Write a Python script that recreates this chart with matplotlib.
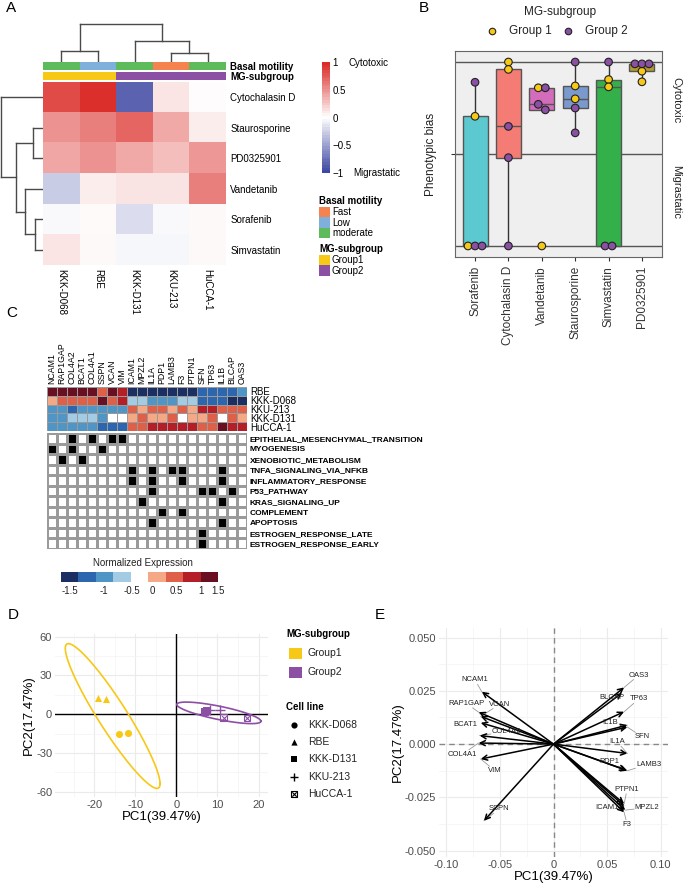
import numpy as np
import matplotlib
matplotlib.use('Agg')
import matplotlib.pyplot as plt
from matplotlib.colors import LinearSegmentedColormap, ListedColormap, BoundaryNorm, to_rgb
from matplotlib.patches import Rectangle

plt.rcParams['font.family'] = ['Liberation Sans', 'DejaVu Sans']

# ---------------- Panel A data ----------------
a_cells = ['KKK-D068', 'RBE', 'KKK-D131', 'KKU-213', 'HuCCA-1']
a_drugs = ['Cytochalasin D', 'Staurosporine', 'PD0325901', 'Vandetanib', 'Sorafenib', 'Simvastatin']
a_bias = [
    [0.85, 0.97, -0.85, 0.12, 0.01],
    [0.50, 0.60, 0.72, 0.40, 0.08],
    [0.42, 0.50, 0.40, 0.30, 0.48],
    [-0.28, 0.08, 0.13, 0.13, 0.60],
    [-0.03, 0.02, -0.18, -0.03, 0.03],
    [0.12, 0.03, -0.04, -0.04, 0.03],
]
a_motility = ['moderate', 'Low', 'moderate', 'Fast', 'moderate']
a_subgroup = ['Group1', 'Group1', 'Group2', 'Group2', 'Group2']
a_col_merges = [(0, 1, 11), (3, 4, 9), (2, 6, 21), (5, 7, 38)]
a_row_merges = [(1, 2, 10), (4, 5, 8), (3, 7, 18), (6, 8, 27), (0, 9, 42)]

# ---------------- Panel B data ----------------
b_drugs = ['Sorafenib', 'Cytochalasin D', 'Vandetanib', 'Staurosporine', 'Simvastatin', 'PD0325901']
b_group1 = [[-1.0, 0.41], [1.0, 0.92], [-1.0, 0.72], [0.74, 0.60], [0.81, 0.73], [0.90, 0.785]]
b_group2 = [[-1.0, -1.0, 0.78], [0.30, -0.04, -1.0], [0.72, 0.54, 0.48], [1.0, 0.50, 0.23],
            [1.0, -1.0, -1.0], [0.98, 0.98, 0.98]]

# ---------------- Panel C data ----------------
c_genes = ['NCAM1', 'RAP1GAP', 'COL4A2', 'BCAT1', 'COL4A1', 'SSPN', 'VCAN', 'VIM', 'ICAM1', 'MPZL2',
           'IL1A', 'PDP1', 'LAMB3', 'F3', 'PTPN1', 'SFN', 'TP63', 'IL1B', 'BLCAP', 'OAS3']
c_cells = ['RBE', 'KKK-D068', 'KKU-213', 'KKK-D131', 'HuCCA-1']
c_expr = [
    [1.75, 1.75, 1.75, 1.75, 1.75, 0.75, 1.75, 1.25, -1.75, -1.75, -1.75, -1.75, -1.75, -1.75, -1.75, -1.25, -1.25, -1.25, -1.25, -0.75],
    [0.25, 0.75, 0.75, 0.75, 0.75, 1.75, 0.75, 1.25, -0.25, -0.25, -0.75, -0.75, -0.75, -0.25, -0.25, -1.25, -1.25, -1.25, -1.75, -1.75],
    [-0.75, -0.75, -1.25, -0.75, -0.75, -0.75, -0.75, -0.75, 0.75, 0.25, 0.75, 0.75, 0.25, 0.75, 0.25, 1.25, 1.25, 0.75, 0.75, 0.75],
    [-0.75, -0.75, -0.25, -0.25, -0.25, -0.75, 0.0, 0.0, 0.25, 0.75, 0.25, 0.25, 0.75, 0.0, 0.25, 0.25, 0.75, 0.0, 0.75, 0.25],
    [-0.75, -0.75, -0.75, -0.75, -0.75, -1.25, -1.25, -1.25, 0.75, 0.75, 1.25, 1.25, 1.25, 1.25, 1.25, 0.75, 0.75, 1.75, 1.25, 1.25],
]
c_pathways = ['EPITHELIAL_MESENCHYMAL_TRANSITION', 'MYOGENESIS', 'XENOBIOTIC_METABOLISM',
              'TNFA_SIGNALING_VIA_NFKB', 'INFLAMMATORY_RESPONSE', 'P53_PATHWAY', 'KRAS_SIGNALING_UP',
              'COMPLEMENT', 'APOPTOSIS', 'ESTROGEN_RESPONSE_LATE', 'ESTROGEN_RESPONSE_EARLY']
c_members = [
    ['COL4A2', 'COL4A1', 'VCAN', 'VIM'],
    ['NCAM1', 'COL4A2', 'SSPN'],
    ['RAP1GAP', 'BCAT1'],
    ['ICAM1', 'IL1A', 'LAMB3', 'F3', 'IL1B'],
    ['ICAM1', 'IL1A', 'F3', 'IL1B'],
    ['IL1A', 'SFN', 'TP63', 'BLCAP'],
    ['MPZL2', 'IL1B'],
    ['PDP1', 'F3'],
    ['IL1A', 'IL1B'],
    ['SFN'],
    ['SFN'],
]
c_legend_ticks = ['-1.5', '-1', '-0.5', '0', '0.5', '1', '1.5']

# ---------------- Panel D data ----------------
d_cells = ['KKK-D068', 'RBE', 'KKK-D131', 'KKU-213', 'HuCCA-1']
d_groups = ['Group1', 'Group1', 'Group2', 'Group2', 'Group2']
d_pc1 = [[-14.0, -11.8], [-19.0, -17.1], [7.0, 7.5], [8.3, 10.6], [11.5, 17.2]]
d_pc2 = [[-15.0, -14.7], [12.7, 11.4], [2.0, 2.8], [3.6, 3.6], [-2.6, -3.1]]

# ---------------- Panel E data ----------------
e_genes = ['NCAM1', 'RAP1GAP', 'VCAN', 'BCAT1', 'COL4A2', 'COL4A1', 'VIM', 'SSPN',
           'OAS3', 'BLCAP', 'TP63', 'IL1B', 'SFN', 'IL1A', 'PDP1', 'LAMB3', 'PTPN1', 'ICAM1', 'MPZL2', 'F3']
e_pc1 = [-0.067, -0.070, -0.068, -0.068, -0.069, -0.070, -0.068, -0.065,
         0.066, 0.064, 0.066, 0.069, 0.069, 0.069, 0.068, 0.069, 0.066, 0.066, 0.067, 0.066]
e_pc2 = [0.0246, 0.0150, 0.0130, 0.0100, 0.0040, 0.0005, -0.0070, -0.0360,
         0.0266, 0.0240, 0.0152, 0.0089, 0.0080, -0.0044, -0.0122, -0.0125, -0.0280, -0.0290, -0.0310, -0.0320]
e_lab_x = [-0.0734, -0.0813, -0.0500, -0.0828, -0.0438, -0.0850, -0.0547, -0.0506,
           0.0797, 0.0547, 0.0797, 0.0531, 0.0828, 0.0594, 0.0525, 0.0891, 0.0688, 0.0500, 0.0875, 0.0688]
e_lab_y = [0.0301, 0.0191, 0.0188, 0.0092, 0.0058, -0.0047, -0.0125, -0.0304,
           0.0324, 0.0219, 0.0212, 0.0100, 0.0034, 0.0011, -0.0083, -0.0094, -0.0213, -0.0298, -0.0298, -0.0376]

# ---------------- styles ----------------
mot_colors = {'Fast': '#F4834F', 'Low': '#7FAFDB', 'moderate': '#5DBB5B'}
grp_colors = {'Group1': '#F7C815', 'Group2': '#8B4FA4'}
box_colors = ['#5CC8D0', '#F47C74', '#D36CBB', '#7A9ACD', '#33B04A', '#B39A2C']
expr_colors = ['#1C2F62', '#2C66AE', '#4F95C6', '#A3CCE4', '#FFFFFF', '#F4A886', '#DE6049', '#B41F27', '#681021']
expr_bounds = [-2, -1.5, -1, -0.5, -0.1, 0.1, 0.5, 1, 1.5, 2]
dendro_col = '#4a4a4a'

W, H = 685, 889
fig = plt.figure(figsize=(W / 100, H / 100), dpi=100)


def rect(x0, y0, x1, y1):
    return [x0 / W, 1 - y1 / H, (x1 - x0) / W, (y1 - y0) / H]


ov = fig.add_axes([0, 0, 1, 1])
ov.set_xlim(0, W)
ov.set_ylim(H, 0)
ov.axis('off')
ov.patch.set_alpha(0)

# panel letters
for s, (x, y) in zip('ABCDE', [(11, 8), (424, 8), (12, 313), (13, 615), (380, 615)]):
    ov.text(x, y, s, fontsize=11, ha='center', va='center')

# ================= Panel A =================
cmapA = LinearSegmentedColormap.from_list('ab', ['#3F48A3', '#FFFFFF', '#DB2B27'], N=256)
axA = fig.add_axes(rect(43, 82, 226, 265))
axA.imshow(np.array(a_bias), cmap=cmapA, vmin=-1, vmax=1, aspect='auto', interpolation='nearest')
axA.set_xticks(range(len(a_cells)))
axA.set_xticklabels(a_cells, rotation=-90, fontsize=7, va='top')
axA.yaxis.tick_right()
axA.set_yticks(range(len(a_drugs)))
axA.set_yticklabels(a_drugs, fontsize=7)
axA.tick_params(length=0, pad=3)
for s in axA.spines.values():
    s.set_visible(False)

for (y0, y1, vals, cmapd, name) in [(62, 70.5, a_motility, mot_colors, 'Basal motility'),
                                    (72, 80.5, a_subgroup, grp_colors, 'MG-subgroup')]:
    axm = fig.add_axes(rect(43, y0, 226, y1))
    axm.imshow(np.array([[to_rgb(cmapd[v]) for v in vals]]), aspect='auto', interpolation='nearest')
    axm.set_xticks([])
    axm.yaxis.tick_right()
    axm.set_yticks([0])
    axm.set_yticklabels([name], fontsize=7, fontweight='bold')
    axm.tick_params(length=0, pad=3)
    for s in axm.spines.values():
        s.set_visible(False)


def draw_dendro(ax, merges, n, orient):
    pos = {i: float(i) for i in range(n)}
    hgt = {i: 0.0 for i in range(n)}
    for k, (a, b, h) in enumerate(merges):
        for c in (a, b):
            if orient == 'top':
                ax.plot([pos[c], pos[c]], [hgt[c], h], color=dendro_col, lw=1)
            else:
                ax.plot([-hgt[c], -h], [pos[c], pos[c]], color=dendro_col, lw=1)
        if orient == 'top':
            ax.plot([pos[a], pos[b]], [h, h], color=dendro_col, lw=1)
        else:
            ax.plot([-h, -h], [pos[a], pos[b]], color=dendro_col, lw=1)
        pos[n + k] = (pos[a] + pos[b]) / 2
        hgt[n + k] = h


axDc = fig.add_axes(rect(43, 22, 226, 62))
draw_dendro(axDc, a_col_merges, len(a_cells), 'top')
axDc.set_xlim(-0.5, len(a_cells) - 0.5)
axDc.set_ylim(0, 40)
axDc.axis('off')

axDr = fig.add_axes(rect(0, 82, 43, 265))
draw_dendro(axDr, a_row_merges, len(a_drugs), 'left')
axDr.set_xlim(-43, 0)
axDr.set_ylim(len(a_drugs) - 0.5, -0.5)
axDr.axis('off')

# colorbar
axCb = fig.add_axes(rect(322, 62, 330, 173))
grad = np.linspace(1, -1, 41)[:, None]
axCb.imshow(grad, cmap=cmapA, vmin=-1, vmax=1, aspect='auto', extent=[0, 1, -1, 1], interpolation='nearest')
axCb.set_xticks([])
axCb.yaxis.tick_right()
axCb.set_yticks([1, 0.5, 0, -0.5, -1])
axCb.set_yticklabels(['1', '0.5', '0', '\u22120.5', '\u22121'], fontsize=7)
axCb.tick_params(length=0, pad=2)
for s in axCb.spines.values():
    s.set_visible(False)
ov.text(349, 63, 'Cytotoxic', fontsize=7, va='center', ha='left')
ov.text(353, 173, 'Migrastatic', fontsize=7, va='center', ha='left')

# annotation legends
ov.text(319, 201, 'Basal motility', fontsize=7, fontweight='bold', va='center')
for i, k in enumerate(['Fast', 'Low', 'moderate']):
    ov.add_patch(Rectangle((319, 206.5 + i * 10.5), 11, 10.5, color=mot_colors[k], lw=0))
    ov.text(332, 212 + i * 10.5, k, fontsize=7, va='center')
ov.text(319, 249, 'MG-subgroup', fontsize=7, fontweight='bold', va='center')
for i, k in enumerate(['Group1', 'Group2']):
    ov.add_patch(Rectangle((319, 254.5 + i * 10.5), 11, 10.5, color=grp_colors[k], lw=0))
    ov.text(332, 260 + i * 10.5, k, fontsize=7, va='center')

# ================= Panel B =================
axB = fig.add_axes(rect(455, 51, 662, 257))
axB.set_facecolor('#EFEFEF')
for yv in (-1, 0, 1):
    axB.axhline(yv, color='#555555', lw=1, zorder=1)
all_vals = [g1 + g2 for g1, g2 in zip(b_group1, b_group2)]
pos = np.arange(1, len(b_drugs) + 1)
bp = axB.boxplot(all_vals, positions=pos, widths=0.75, patch_artist=True, showfliers=False, whis=1.5,
                 medianprops=dict(color='#555555', lw=1), whiskerprops=dict(color='#333333', lw=1),
                 capprops=dict(visible=False), boxprops=dict(edgecolor='#555555', lw=1), zorder=2)
for patch, col in zip(bp['boxes'], box_colors):
    patch.set_facecolor(col)


def swarm(vals, tol=0.07, step=0.21):
    n = len(vals)
    xs = np.zeros(n)
    used = [False] * n
    for i in range(n):
        if used[i]:
            continue
        grp = [j for j in range(n) if not used[j] and abs(vals[j] - vals[i]) < tol]
        for j in grp:
            used[j] = True
        k = len(grp)
        for r, j in enumerate(grp):
            xs[j] = (r - (k - 1) / 2) * step
    return xs


for i, (g1, g2) in enumerate(zip(b_group1, b_group2)):
    vals = g1 + g2
    cols = [grp_colors['Group1']] * len(g1) + [grp_colors['Group2']] * len(g2)
    off = swarm(vals)
    axB.scatter(pos[i] + off, vals, s=30, c=cols, edgecolors='#222222', linewidths=0.8, zorder=4)
axB.set_xlim(0.4, 6.6)
axB.set_ylim(-1.12, 1.12)
axB.set_xticks(pos)
axB.set_xticklabels(b_drugs, rotation=90, fontsize=8.5)
axB.set_yticks([0])
axB.set_yticklabels([''])
axB.tick_params(length=3, color='#333333', labelcolor='#333333')
for s in axB.spines.values():
    s.set_color('#666666')
axB.set_ylabel('Phenotypic bias', fontsize=8.5, color='#222222')
axB.yaxis.set_label_coords(-0.085, 0.5)
axB.text(1.07, 0.762, 'Cytotoxic', rotation=-90, transform=axB.transAxes, fontsize=8,
         ha='center', va='center', color='#222222')
axB.text(1.07, 0.316, 'Migrastatic', rotation=-90, transform=axB.transAxes, fontsize=8,
         ha='center', va='center', color='#222222')
ov.text(560, 12, 'MG-subgroup', fontsize=8.5, ha='center', va='center', color='#222222')
ov.scatter([492], [31], s=22, c=grp_colors['Group1'], edgecolors='#222222', linewidths=0.8)
ov.text(509, 31, 'Group 1', fontsize=8.5, va='center', color='#222222')
ov.scatter([568], [31], s=22, c=grp_colors['Group2'], edgecolors='#222222', linewidths=0.8)
ov.text(585, 31, 'Group 2', fontsize=8.5, va='center', color='#222222')

# ================= Panel C =================
cmapC = ListedColormap(expr_colors)
normC = BoundaryNorm(expr_bounds, cmapC.N)
axCe = fig.add_axes(rect(47, 387, 247, 431))
axCe.pcolormesh(np.array(c_expr), cmap=cmapC, norm=normC, edgecolors='#9a9a9a', linewidth=0.6)
axCe.set_xlim(0, len(c_genes))
axCe.set_ylim(len(c_cells), 0)
axCe.xaxis.tick_top()
axCe.set_xticks(np.arange(len(c_genes)) + 0.5)
axCe.set_xticklabels(c_genes, rotation=90, fontsize=6.3)
axCe.yaxis.tick_right()
axCe.set_yticks(np.arange(len(c_cells)) + 0.5)
axCe.set_yticklabels(c_cells, fontsize=7)
axCe.tick_params(length=0, pad=2)
for s in axCe.spines.values():
    s.set_visible(False)

member = np.array([[1 if g in mem else 0 for g in c_genes] for mem in c_members])
axCp = fig.add_axes(rect(47, 433, 247, 549))
axCp.pcolormesh(member, cmap=ListedColormap(['#FFFFFF', '#000000']), vmin=0, vmax=1,
                edgecolors='#9a9a9a', linewidth=0.8)
axCp.set_xlim(0, len(c_genes))
axCp.set_ylim(len(c_pathways), 0)
axCp.set_xticks([])
axCp.yaxis.tick_right()
axCp.set_yticks(np.arange(len(c_pathways)) + 0.5)
axCp.set_yticklabels(c_pathways, fontsize=6, fontweight='bold')
axCp.tick_params(length=0, pad=2)
for s in axCp.spines.values():
    s.set_visible(False)

# expression legend
ov.text(143, 563, 'Normalized Expression', fontsize=7, ha='center', va='center', color='#222222')
bw = 17.5
for i, col in enumerate(expr_colors):
    ov.add_patch(Rectangle((60.7 + i * bw, 572), bw, 10, color=col, lw=0))
tick_px = [70, 104, 132, 152, 176, 201, 218]
for tx, tl in zip(tick_px, c_legend_ticks):
    ov.text(tx, 591, tl, fontsize=7, ha='center', va='center', color='#222222')

# ================= Panel D =================
axD = fig.add_axes(rect(55, 634, 268, 797))
axD.set_xlim(-29.5, 22.3)
axD.set_ylim(-64, 62)
axD.set_xticks([-20, -10, 0, 10, 20])
axD.set_xticklabels(['-20', '-10', '0', '10', '20'])
axD.set_yticks([-60, -30, 0, 30, 60])
axD.set_yticklabels(['-60', '-30', '0', '30', '60'])
axD.set_xticks([-25, -15, -5, 5, 15], minor=True)
axD.set_yticks([-45, -15, 15, 45], minor=True)
axD.grid(True, which='major', color='#EBEBEB', lw=0.8)
axD.grid(True, which='minor', color='#F3F3F3', lw=0.5)
axD.set_axisbelow(True)
axD.tick_params(which='both', length=0, labelsize=8, labelcolor='#4D4D4D', pad=2)
for s in axD.spines.values():
    s.set_visible(False)
axD.axhline(0, color='black', lw=1, zorder=1)
axD.axvline(0, color='black', lw=1, zorder=1)
ell_scale = {'Group1': 3.6, 'Group2': 2.7}
for g in ['Group1', 'Group2']:
    xs = np.concatenate([d_pc1[i] for i in range(len(d_cells)) if d_groups[i] == g])
    ys = np.concatenate([d_pc2[i] for i in range(len(d_cells)) if d_groups[i] == g])
    S = np.cov(np.vstack([xs, ys]))
    L = np.linalg.cholesky(S)
    t = np.linspace(0, 2 * np.pi, 200)
    circ = np.vstack([np.cos(t), np.sin(t)])
    e = np.array([[xs.mean()], [ys.mean()]]) + ell_scale[g] * L @ circ
    axD.plot(e[0], e[1], color=grp_colors[g], lw=1.2, zorder=2)
markers = {'KKK-D068': 'o', 'RBE': '^', 'KKK-D131': 's', 'KKU-213': '+', 'HuCCA-1': 'box'}
for i, cl in enumerate(d_cells):
    col = grp_colors[d_groups[i]]
    m = markers[cl]
    if m == 'box':
        axD.scatter(d_pc1[i], d_pc2[i], marker='s', s=22, facecolors='none', edgecolors=col, linewidths=0.8, zorder=3)
        axD.scatter(d_pc1[i], d_pc2[i], marker='x', s=12, c=col, linewidths=0.8, zorder=3)
    elif m == '+':
        axD.scatter(d_pc1[i], d_pc2[i], marker='+', s=45, c=col, linewidths=1, zorder=3)
    else:
        axD.scatter(d_pc1[i], d_pc2[i], marker=m, s=26, c=col, linewidths=0, zorder=3)
axD.set_xlabel('PC1(39.47%)', fontsize=9.5, labelpad=1)
axD.set_ylabel('PC2(17.47%)', fontsize=9.5, labelpad=1)

# legend D
ov.text(286, 634, 'MG-subgroup', fontsize=7, fontweight='bold', va='center')
for i, g in enumerate(['Group1', 'Group2']):
    ov.add_patch(Rectangle((289, 647.5 + i * 19), 13, 11, color=grp_colors[g], lw=0))
    ov.text(308, 653 + i * 19, g, fontsize=7.5, va='center', color='#222222')
ov.text(286, 707, 'Cell line', fontsize=7, fontweight='bold', va='center')
for i, cl in enumerate(d_cells):
    yy = 725 + i * 17.2
    m = markers[cl]
    if m == 'box':
        ov.scatter([294], [yy], marker='s', s=18, facecolors='none', edgecolors='black', linewidths=0.8)
        ov.scatter([294], [yy], marker='x', s=10, c='black', linewidths=0.8)
    elif m == '+':
        ov.scatter([294], [yy], marker='+', s=40, c='black', linewidths=1)
    else:
        ov.scatter([294], [yy], marker=m, s=20, c='black', linewidths=0)
    ov.text(308, yy, cl, fontsize=7.5, va='center', color='#222222')

# ================= Panel E =================
axE = fig.add_axes(rect(439, 628, 668, 857))
axE.set_xlim(-0.107, 0.107)
axE.set_ylim(-0.053, 0.0545)
axE.set_xticks([-0.10, -0.05, 0, 0.05, 0.10])
axE.set_xticklabels(['-0.10', '-0.05', '0', '0.05', '0.10'])
axE.set_yticks([-0.05, -0.025, 0, 0.025, 0.05])
axE.set_yticklabels(['-0.050', '-0.025', '0.000', '0.025', '0.050'])
axE.set_xticks([-0.075, -0.025, 0.025, 0.075], minor=True)
axE.set_yticks([-0.0375, -0.0125, 0.0125, 0.0375], minor=True)
axE.grid(True, which='major', color='#EBEBEB', lw=0.8)
axE.grid(True, which='minor', color='#F3F3F3', lw=0.5)
axE.set_axisbelow(True)
axE.tick_params(which='both', length=0, labelsize=8, labelcolor='#4D4D4D', pad=2)
for s in axE.spines.values():
    s.set_visible(False)
axE.axhline(0, color='#888888', lw=1, ls=(0, (4, 3)), zorder=1)
axE.axvline(0, color='#888888', lw=1, ls=(0, (4, 3)), zorder=1)
for x, y in zip(e_pc1, e_pc2):
    axE.annotate('', xy=(x, y), xytext=(0, 0),
                 arrowprops=dict(arrowstyle='->', lw=1.1, color='black', mutation_scale=9,
                                 shrinkA=0, shrinkB=0), zorder=3)
texts = []
for g, lx, ly in zip(e_genes, e_lab_x, e_lab_y):
    texts.append(axE.text(lx, ly, g, fontsize=5.5, ha='center', va='center', color='#222222', zorder=4))
axE.set_xlabel('PC1(39.47%)', fontsize=9.5, labelpad=1)
axE.set_ylabel('PC2(17.47%)', fontsize=9.5, labelpad=1)

fig.canvas.draw()
rend = fig.canvas.get_renderer()
inv = axE.transData.inverted()
for t, x, y in zip(texts, e_pc1, e_pc2):
    bb = t.get_window_extent(rend)
    p = axE.transData.transform((x, y))
    cx, cy = (bb.x0 + bb.x1) / 2, (bb.y0 + bb.y1) / 2
    dx, dy = p[0] - cx, p[1] - cy
    hw, hh = bb.width / 2 + 1, bb.height / 2 + 1
    if abs(dx) <= hw and abs(dy) <= hh:
        continue
    s = min(hw / abs(dx) if dx else np.inf, hh / abs(dy) if dy else np.inf)
    st = (cx + dx * s, cy + dy * s)
    if np.hypot(p[0] - st[0], p[1] - st[1]) < 3:
        continue
    a = inv.transform(st)
    axE.plot([a[0], x], [a[1], y], color='#9a9a9a', lw=0.6, zorder=2)

fig.savefig('out.png', dpi=100)
